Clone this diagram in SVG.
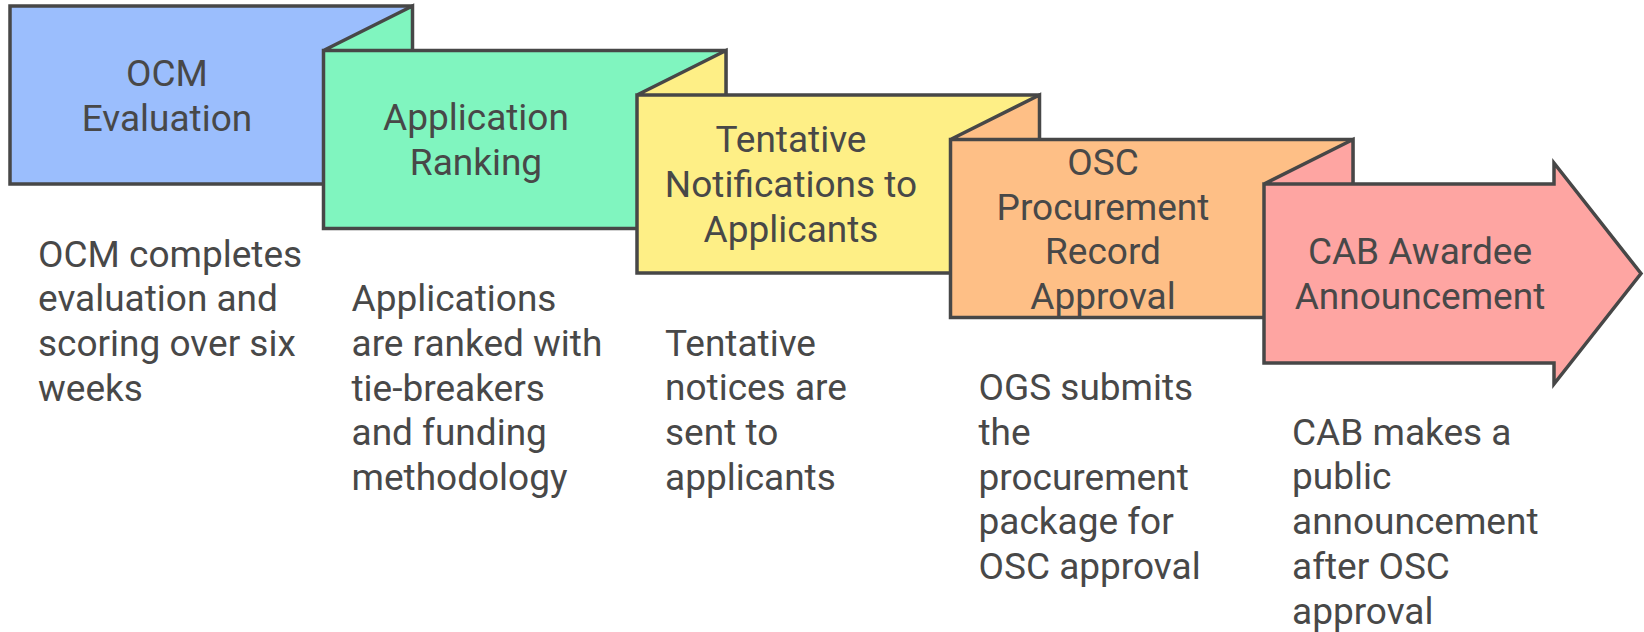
<svg xmlns="http://www.w3.org/2000/svg" width="1644" height="632" viewBox="0 0 1644 632">
<style>
.shape{stroke:#474747;stroke-width:3.5;stroke-linejoin:miter}
.t{font-family:Roboto,"Liberation Sans",sans-serif;font-size:37px;fill:#484848;text-anchor:middle}
.d{font-family:Roboto,"Liberation Sans",sans-serif;font-size:37px;fill:#484848}
</style>
<rect width="1644" height="632" fill="#ffffff"/>
<g id="step1">
<path class="shape" fill="#9BBEFD" d="M10,6 L412,6 L412,184 L10,184 Z"/>
<text class="t"><tspan x="167" y="86">OCM</tspan><tspan x="167" y="131">Evaluation</tspan></text>
</g>
<g id="step2">
<path class="shape" fill="#80F5BF" d="M323.5,50.5 L412.5,6 L412.5,50.5 Z M323.5,50.5 L725.5,50.5 L725.5,228.5 L323.5,228.5 Z"/>
<text class="t"><tspan x="476" y="130">Application</tspan><tspan x="476" y="175">Ranking</tspan></text>
</g>
<g id="step3">
<path class="shape" fill="#FEEF86" d="M637,95 L726,50.5 L726,95 Z M637,95 L1039,95 L1039,273 L637,273 Z"/>
<text class="t"><tspan x="791" y="152">Tentative</tspan><tspan x="791" y="197">Notifications to</tspan><tspan x="791" y="242">Applicants</tspan></text>
</g>
<g id="step4">
<path class="shape" fill="#FEBF86" d="M950.5,139.5 L1039.5,95 L1039.5,139.5 Z M950.5,139.5 L1352.5,139.5 L1352.5,317.5 L950.5,317.5 Z"/>
<text class="t"><tspan x="1103" y="174.5">OSC</tspan><tspan x="1103" y="219.5">Procurement</tspan><tspan x="1103" y="264">Record</tspan><tspan x="1103" y="309">Approval</tspan></text>
</g>
<g id="step5">
<path class="shape" fill="#FEA5A2" d="M1264,184 L1353,139.5 L1353,184 Z M1264,184 L1554,184 L1554,163 L1641,273.5 L1554,384 L1554,363 L1264,363 Z"/>
<text class="t"><tspan x="1420" y="264">CAB Awardee</tspan><tspan x="1420" y="309">Announcement</tspan></text>
</g>
<g id="connectors"></g>
<g id="descriptions">
<text class="d"><tspan x="38" y="266.5">OCM completes</tspan><tspan x="38" y="311.3">evaluation and</tspan><tspan x="38" y="356.1">scoring over six</tspan><tspan x="38" y="400.9">weeks</tspan></text>
<text class="d"><tspan x="351.5" y="311">Applications</tspan><tspan x="351.5" y="355.8">are ranked with</tspan><tspan x="351.5" y="400.6">tie-breakers</tspan><tspan x="351.5" y="445.4">and funding</tspan><tspan x="351.5" y="490.2">methodology</tspan></text>
<text class="d"><tspan x="665" y="355.5">Tentative</tspan><tspan x="665" y="400.3">notices are</tspan><tspan x="665" y="445.1">sent to</tspan><tspan x="665" y="489.9">applicants</tspan></text>
<text class="d"><tspan x="978.5" y="400">OGS submits</tspan><tspan x="978.5" y="444.8">the</tspan><tspan x="978.5" y="489.6">procurement</tspan><tspan x="978.5" y="534.4">package for</tspan><tspan x="978.5" y="579.2">OSC approval</tspan></text>
<text class="d"><tspan x="1292" y="444.5">CAB makes a</tspan><tspan x="1292" y="489.3">public</tspan><tspan x="1292" y="534.1">announcement</tspan><tspan x="1292" y="578.9">after OSC</tspan><tspan x="1292" y="623.7">approval</tspan></text>
</g>
</svg>
